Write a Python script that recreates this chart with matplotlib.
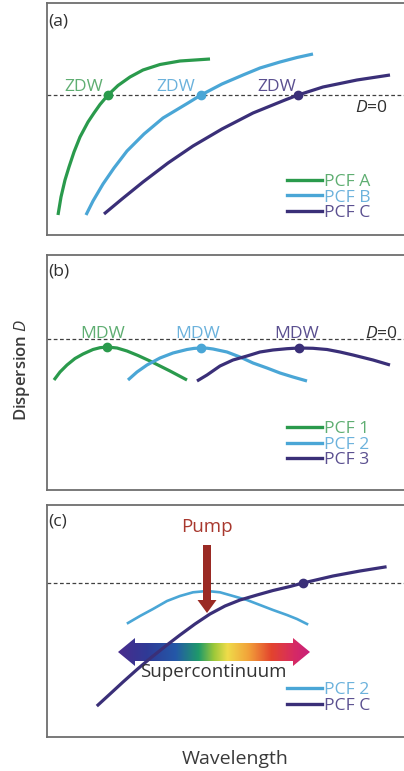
import numpy as np
import matplotlib.pyplot as plt
from matplotlib.patches import Polygon, FancyArrow
from matplotlib.colors import LinearSegmentedColormap
from matplotlib.lines import Line2D

plt.rcParams['font.family'] = ['Open Sans', 'DejaVu Sans']
plt.rcParams['mathtext.fontset'] = 'custom'
plt.rcParams['mathtext.rm'] = 'Open Sans'
plt.rcParams['mathtext.it'] = 'Open Sans:italic'

# wavelength / dispersion in arbitrary units (D = 0 on dashed line)
# (a) zero dispersion wavelengths
a_x = [
    [58, 61, 65, 69, 74, 80, 88, 94, 100, 108, 118, 130, 143, 160, 180, 210],
    [86, 93, 103, 114, 127, 144, 163, 188, 201, 222, 243, 260, 280, 297, 313],
    [104, 122, 143, 168, 193, 222, 253, 285, 298, 323, 357, 390],
]
a_d = [
    [-120, -102, -85, -72, -57, -42, -27, -18, -9.5, 0, 9.5, 18, 25, 30.5, 34, 36],
    [-120, -106, -89, -73, -56, -39, -23, -8, 0, 11, 20, 27, 33, 37.5, 41],
    [-119, -104, -87, -68, -51, -34, -18, -5, 0, 8, 15, 20],
]
a_zdw = [108, 201, 298]
a_labels = ['PCF A', 'PCF B', 'PCF C']

# (b) maximum dispersion wavelengths
b_x = [
    [54, 60, 67, 75, 83, 93, 100, 107, 117, 127, 138, 150, 160, 170, 187],
    [128, 137, 147, 160, 173, 187, 194, 201, 207, 213, 227, 240, 253, 267, 280, 293, 307],
    [197, 207, 220, 233, 247, 260, 273, 287, 299, 313, 327, 340, 353, 373, 390],
]
b_d = [
    [-41, -33, -26, -19.5, -15, -10.5, -8.7, -8, -9, -12, -16.5, -22, -27, -32, -41],
    [-41, -33, -26, -19, -14, -10.5, -9.4, -9, -9.2, -10, -13, -18, -24, -29, -34, -38, -42],
    [-42, -36, -27, -21, -17, -13, -11, -9.7, -9, -9.3, -10.5, -13, -16, -21, -26],
]
b_mdw = [107, 201, 299]
b_mdw_d = [-8, -9, -9]
b_labels = ['PCF 1', 'PCF 2', 'PCF 3']

# (c) supercontinuum
c_blue_x = [128, 140, 153, 167, 180, 193, 207, 220, 233, 247, 260, 273, 287, 297, 307]
c_blue_d = [-40, -33, -26, -18, -13, -9.3, -8, -9.3, -13, -17, -22, -27, -32, -36, -41]
c_purple_x = [98, 110, 123, 137, 150, 165, 180, 195, 210, 225, 240, 257, 273, 290, 303,
              318, 333, 360, 385]
c_purple_d = [-122, -111, -99, -86.5, -75.5, -63.5, -52, -41, -31, -23, -17, -12, -7.5,
              -3.5, 0, 3.5, 7, 12, 16]
c_zdw = 303
c_labels = ['PCF 2', 'PCF C']
pump_x = 207
sc_start, sc_end, sc_level = 118, 310, -69

green, blue, purple = '#2a9a4c', '#4aa6d6', '#3a2f78'
green_t, blue_t, purple_t = '#5fae72', '#6cb2dc', '#5b5090'
cols = [green, blue, purple]
tcols = [green_t, blue_t, purple_t]

fig = plt.figure(figsize=(4.04, 7.71), dpi=100)
W, H = 404, 771
FS = 12.6


def make_ax(top, bottom, zero):
    ax = fig.add_axes([47 / W, (H - bottom) / H, (406 - 47) / W, (bottom - top) / H])
    ax.set_xlim(47, 406)
    ax.set_ylim(zero - bottom, zero - top)
    ax.set_xticks([])
    ax.set_yticks([])
    for s in ax.spines.values():
        s.set_color('#6e6e6e')
        s.set_linewidth(1.3)
    ax.axhline(0, color='#404040', lw=0.9, ls=(0, (3, 2)))
    return ax


def legend(ax, labels, colors, tcolors, y_top):
    h = [Line2D([], [], color=c, lw=2.4) for c in colors]
    leg = ax.legend(h, labels, loc='upper left', bbox_to_anchor=(0.668, y_top),
                    frameon=False, fontsize=FS, handlelength=2.0, handletextpad=0.12,
                    labelspacing=-0.05, borderpad=0, borderaxespad=0)
    for t, c in zip(leg.get_texts(), tcolors):
        t.set_color(c)


# panel (a)
ax = make_ax(3, 235, 95)
for x, d, c in zip(a_x, a_d, cols):
    ax.plot(x, d, color=c, lw=2.3, solid_capstyle='butt', solid_joinstyle='round')
for x, c, tc, off in zip(a_zdw, cols, tcols, [-24, -25, -21]):
    ax.plot(x, 0, 'o', color=c, ms=6)
    ax.text(x + off, 4, 'ZDW', color=tc, fontsize=FS, ha='center', va='baseline')
ax.text(371, -13, '$D$=0', color='#303030', fontsize=FS, ha='center', va='center')
ax.text(48, 73, '(a)', fontsize=FS, color='#303030', ha='left', va='center')
legend(ax, a_labels, cols, tcols, 0.263)

# panel (b)
ax = make_ax(255, 490, 339)
for x, d, c in zip(b_x, b_d, cols):
    ax.plot(x, d, color=c, lw=2.3, solid_capstyle='butt', solid_joinstyle='round')
for x, y, c, tc, off in zip(b_mdw, b_mdw_d, cols, tcols, [-4, -3, -2]):
    ax.plot(x, y, 'o', color=c, ms=6)
    ax.text(x + off, 1.5, 'MDW', color=tc, fontsize=FS, ha='center', va='baseline')
ax.text(365, 1.5, '$D$=0', color='#303030', fontsize=FS, ha='left', va='baseline',
        clip_on=False)
ax.text(48, 67, '(b)', fontsize=FS, color='#303030', ha='left', va='center')
legend(ax, b_labels, cols, tcols, 0.293)

# panel (c)
ax = make_ax(505, 737, 583)
ax.plot(c_blue_x, c_blue_d, color=blue, lw=1.9, solid_joinstyle='round')

# supercontinuum rainbow arrow
body, head, hlen = 9, 14, 17
verts = [(sc_start, sc_level), (sc_start + hlen, sc_level + head), (sc_start + hlen, sc_level + body),
         (sc_end - hlen, sc_level + body), (sc_end - hlen, sc_level + head), (sc_end, sc_level),
         (sc_end - hlen, sc_level - head), (sc_end - hlen, sc_level - body),
         (sc_start + hlen, sc_level - body), (sc_start + hlen, sc_level - head)]
poly = Polygon(verts, closed=True, fc='none', ec='none')
ax.add_patch(poly)
rainbow = LinearSegmentedColormap.from_list('sc', [
    (0.0, '#4a2c8c'), (0.15, '#2f3a96'), (0.3, '#2458a8'), (0.42, '#1f9a6a'),
    (0.5, '#9cc83a'), (0.57, '#efdc4a'), (0.68, '#f2a23a'), (0.8, '#e3442e'),
    (0.92, '#d62a64'), (1.0, '#c8207a')])
img = ax.imshow(np.linspace(0, 1, 256)[None, :], cmap=rainbow, aspect='auto',
                extent=[sc_start, sc_end, sc_level - head, sc_level + head], zorder=2)
img.set_clip_path(poly)
ax.set_xlim(47, 406)
ax.set_ylim(583 - 737, 583 - 505)

ax.plot(c_purple_x, c_purple_d, color=purple, lw=2.3, zorder=3, solid_joinstyle='round')
ax.plot(c_zdw, 0, 'o', color=purple, ms=6, zorder=4)

ax.add_patch(FancyArrow(pump_x, 38, 0, -68, width=8, head_width=19, head_length=13,
                        length_includes_head=True, fc='#9a2a24', ec='none', zorder=4))
ax.text(pump_x, 56, 'Pump', color='#a8382e', fontsize=13.5, ha='center', va='center')
ax.text(213, sc_level - 20, 'Supercontinuum', color='#333333', fontsize=13.5,
        ha='center', va='center', zorder=5)
ax.text(48, 61, '(c)', fontsize=FS, color='#303030', ha='left', va='center')
legend(ax, c_labels, [blue, purple], [blue_t, purple_t], 0.237)

fig.text(22 / W, 1 - 370 / H, 'Dispersion $D$', rotation=90, fontsize=12,
         color='#3a3a3a', ha='center', va='center', fontweight='semibold')
fig.text(235 / W, 1 - 759 / H, 'Wavelength', fontsize=14, color='#3a3a3a',
         ha='center', va='center')

fig.savefig('out.png', dpi=100)
